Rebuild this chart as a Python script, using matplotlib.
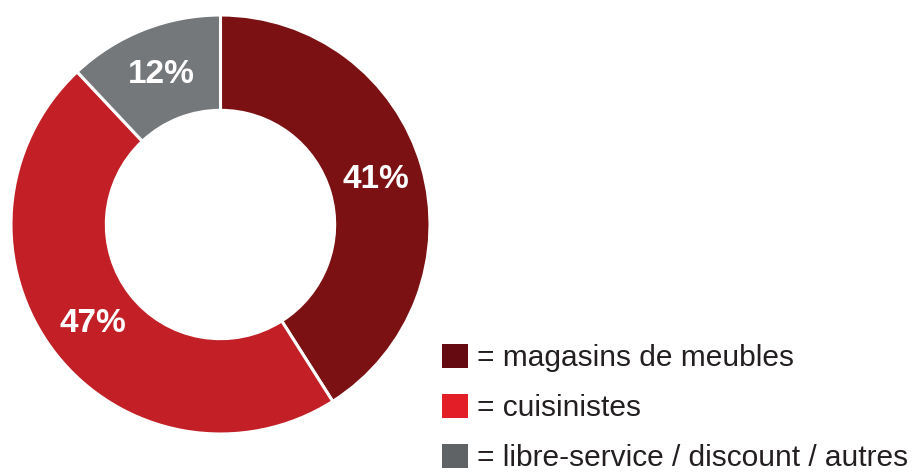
import matplotlib.pyplot as plt
from matplotlib.patches import Patch

# data
categories = ['magasins de meubles', 'cuisinistes', 'libre-service / discount / autres']
shares = [41, 47, 12]
pie_colors = ['#7b1113', '#c22026', '#75787b']
legend_colors = ['#650a10', '#e31e26', '#5f6366']

plt.rcParams['font.family'] = ['Liberation Sans', 'DejaVu Sans']

W, H = 914, 472
fig = plt.figure(figsize=(W / 100, H / 100), dpi=100)

# donut axes, placed in pixel terms
cx, cy, R = 220.5, 224.5, 209.5
ax = fig.add_axes([(cx - R) / W, (H - cy - R) / H, 2 * R / W, 2 * R / H])

wedges, texts, autotexts = ax.pie(
    shares, colors=pie_colors, startangle=90, counterclock=False,
    radius=1.0, autopct='%.0f%%', pctdistance=0.77,
    wedgeprops=dict(width=0.455, edgecolor='white', linewidth=2.2),
    textprops=dict(color='white', fontsize=24, fontweight='bold'))
ax.set_xlim(-1, 1)
ax.set_ylim(-1, 1)
ax.set_aspect('equal')

handles = [Patch(facecolor=c, edgecolor='none') for c in legend_colors]
labels = ['= ' + c for c in categories]
leg = fig.legend(handles, labels, loc='upper left',
                 bbox_to_anchor=(442 / W, 1 - 344 / H),
                 frameon=False, fontsize=21.5, handlelength=0.87, handleheight=0.87,
                 handletextpad=0.3, labelspacing=0.72, borderpad=0, borderaxespad=0)
for t in leg.get_texts():
    t.set_color('#231f20')

fig.savefig('out.png', dpi=100)
